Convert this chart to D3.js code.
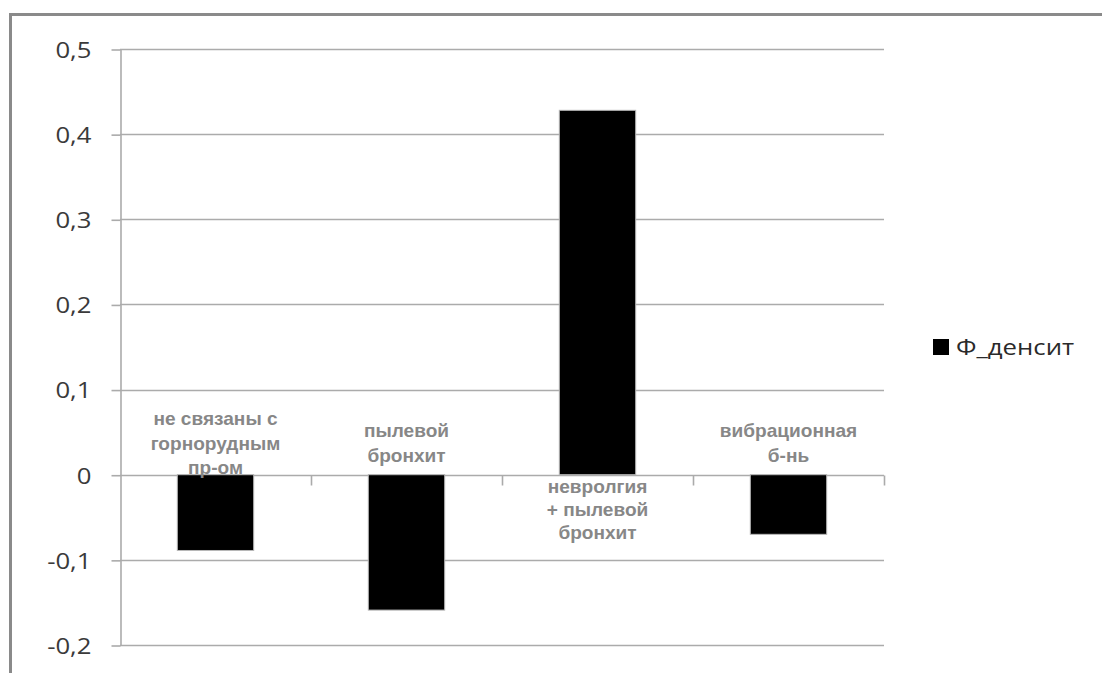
<!DOCTYPE html>
<html>
<head>
<meta charset="utf-8">
<script src="https://cdn.jsdelivr.net/npm/d3@7"></script>
<style>
  html, body { margin: 0; padding: 0; background: #fff; }
  svg { display: block; }
</style>
</head>
<body>
<svg id="chart" width="1102" height="673"></svg>
<script>
// Category labels, one array of lines per category
const categories = [
  ["не связаны с", "горнорудным", "пр-ом"],
  ["пылевой", "бронхит"],
  ["невролгия", "+ пылевой", "бронхит"],
  ["вибрационная", "б-нь"]
];
// Series values
const seriesName = "Ф_денсит";
const values = [-0.089, -0.159, 0.428, -0.070];
// Value axis ticks
const yTicks = [-0.2, -0.1, 0, 0.1, 0.2, 0.3, 0.4, 0.5];

const W = 1102, H = 673;
const plot = { left: 120, right: 884, top: 49, bottom: 645 };
const stretch = 1.17; // glyphs are drawn slightly wide

const svg = d3.select("#chart");

// outer chart frame (runs off the right and bottom edges)
svg.append("rect")
  .attr("x", 10.5).attr("y", 14.5)
  .attr("width", W + 20).attr("height", H + 20)
  .attr("fill", "#fff")
  .attr("stroke", "#8a8a8a").attr("stroke-width", 3);

const y = d3.scaleLinear().domain([-0.2, 0.5]).range([plot.bottom, plot.top]);
const x = d3.scaleBand()
  .domain(d3.range(categories.length))
  .range([plot.left, plot.right])
  .paddingInner(0.6).paddingOuter(0.3);

const ru = d3.formatLocale({ decimal: ",", thousands: " ", grouping: [3], currency: ["", " ₽"], minus: "-" });
const fmt = ru.format(".1~f");

const gridColor = "#ababab";

// horizontal gridlines
svg.append("g")
  .selectAll("line")
  .data(yTicks)
  .join("line")
  .attr("x1", plot.left).attr("x2", plot.right)
  .attr("y1", d => Math.round(y(d)) + 0.5).attr("y2", d => Math.round(y(d)) + 0.5)
  .attr("stroke", gridColor).attr("stroke-width", 1.6);

// value axis
const yAxis = svg.append("g")
  .attr("transform", `translate(${plot.left + 0.5},0.5)`)
  .call(d3.axisLeft(y).tickValues(yTicks).tickSize(9).tickSizeOuter(0).tickFormat(fmt));
yAxis.select(".domain").attr("stroke", gridColor).attr("stroke-width", 1.6);
yAxis.selectAll(".tick line").attr("stroke", gridColor).attr("stroke-width", 1.6);
yAxis.selectAll(".tick text")
  .attr("x", -29 / stretch)
  .attr("dy", "0.36em")
  .attr("transform", `scale(${stretch},1)`)
  .attr("fill", "#3a3a3a")
  .style("font-family", "'Open Sans', sans-serif")
  .style("font-size", "22px");

// category ticks hanging below the zero line
const y0 = Math.round(y(0)) + 0.5;
svg.append("g")
  .selectAll("line")
  .data(d3.range(1, categories.length + 1))
  .join("line")
  .attr("x1", i => Math.round(x.range()[0] + i * x.step()) + 0.5)
  .attr("x2", i => Math.round(x.range()[0] + i * x.step()) + 0.5)
  .attr("y1", y0).attr("y2", y0 + 10)
  .attr("stroke", gridColor).attr("stroke-width", 1.6);

// bars
svg.append("g")
  .selectAll("rect")
  .data(values)
  .join("rect")
  .attr("x", (d, i) => x(i))
  .attr("width", x.bandwidth())
  .attr("y", d => y(Math.max(0, d)))
  .attr("height", d => Math.abs(y(d) - y(0)))
  .attr("fill", "#000")
  .attr("stroke", "#b8b8b8").attr("stroke-width", 1);

// category labels: above the axis for negative bars, below for positive
const labelStretch = 1.06;
const labels = svg.append("g")
  .selectAll("g")
  .data(categories.map((lines, i) => ({ lines, v: values[i], i })))
  .join("g");
labels.each(function (d) {
  const g = d3.select(this);
  const cx = x(d.i) + x.bandwidth() / 2;
  const n = d.lines.length;
  let first, lh;
  if (d.v < 0) {
    lh = 24.5;
    first = y(0) - 25 - (n - 1) * lh / 2;   // block centred above the axis
  } else {
    lh = 23;
    first = y(0) + 18;
  }
  d.lines.forEach((t, k) => {
    g.append("text")
      .attr("transform", `translate(${cx},${first + k * lh}) scale(${labelStretch},1)`)
      .attr("text-anchor", "middle")
      .attr("fill", "#878787")
      .style("font-family", "'Liberation Sans', Arial, sans-serif")
      .style("font-weight", "bold")
      .style("font-size", "18px")
      .text(t);
  });
});

// legend
const legend = svg.append("g");
legend.append("rect")
  .attr("x", 933).attr("y", 339).attr("width", 16).attr("height", 16)
  .attr("fill", "#000");
legend.append("text")
  .attr("transform", `translate(956,355) scale(${stretch},1)`)
  .attr("fill", "#2a2a2a")
  .style("font-family", "'Open Sans', sans-serif")
  .style("font-size", "22px")
  .text(seriesName);
</script>
</body>
</html>
